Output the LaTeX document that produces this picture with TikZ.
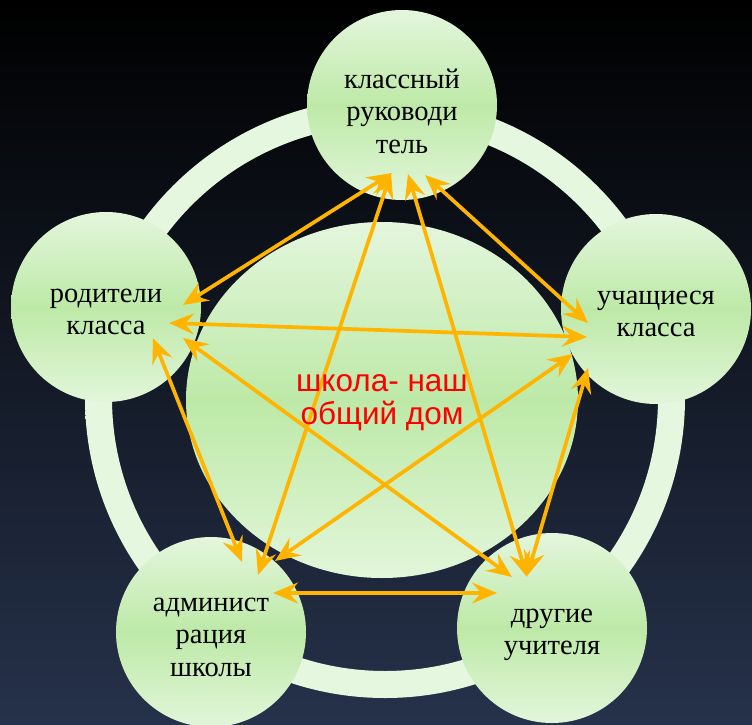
\documentclass[tikz,border=0pt]{standalone}
\usepackage{fontspec}
\setmainfont{Liberation Serif}
\newfontfamily\arialf{Liberation Sans}
\usetikzlibrary{shapes.geometric,arrows.meta}
\definecolor{bgbot}{HTML}{26324B}
\definecolor{gtop}{HTML}{E4F6DD}
\definecolor{gmid}{HTML}{BDE9A7}
\definecolor{gbot}{HTML}{E2F6DA}
\definecolor{ringA}{HTML}{E6F7DF}
\definecolor{ringB}{HTML}{D9F2CC}
\definecolor{arrc}{HTML}{FFB400}
\definecolor{txtred}{HTML}{FF0000}
\tikzset{
  bub/.style={circle, minimum size=190pt, inner sep=0pt,
    top color=gtop, bottom color=gbot, middle color=gmid},
  btxt/.style={align=center, inner sep=0pt, font=\fontsize{28.5}{32.5}\selectfont, text=black},
  hub/.style={ellipse, minimum width=392pt, minimum height=356pt, inner sep=0pt,
    top color=gtop, bottom color=gbot, middle color=gmid},
  htxt/.style={align=center, inner sep=0pt, font=\arialf\fontsize{31.5}{33}\selectfont, text=txtred},
  arr/.style={draw=arrc, line width=3.7pt,
    {Stealth[length=25pt,width=21pt,inset=9pt]}-{Stealth[length=25pt,width=21pt,inset=9pt]}}
}
\begin{document}
\begin{tikzpicture}[x=1pt,y=1pt]
\useasboundingbox (0,0) rectangle (752,-725);
% background
\shade[top color=black, middle color=black, bottom color=bgbot] (0,0) rectangle (752,-725);
% ring
\shade[even odd rule, top color=ringA, middle color=ringB, bottom color=ringA]
  (385,-398) circle (300) (385,-398) circle (273);
% central ellipse
\node[hub] (hub) at (382,-400) {};
% outer circles
\node[bub] (top) at (402,-105) {};
\node[bub] (lft) at (106,-307) {};
\node[bub] (rgt) at (656,-309) {};
\node[bub] (adm) at (211,-632) {};
\node[bub] (oth) at (552,-628) {};
% arrow end points
\coordinate (tTL) at (392,-173); \coordinate (lTL) at (183,-305);
\coordinate (tTA) at (391,-173); \coordinate (aTA) at (258,-575);
\coordinate (tTB) at (408,-174); \coordinate (bTB) at (527,-577);
\coordinate (tTR) at (425,-175); \coordinate (rTR) at (588,-323);
\coordinate (lLR) at (169,-323); \coordinate (rLR) at (587,-337);
\coordinate (lLA) at (153,-338); \coordinate (aLA) at (242,-562);
\coordinate (lLB) at (183,-338); \coordinate (bLB) at (512,-577);
\coordinate (rRA) at (573,-354); \coordinate (aRA) at (275,-561);
\coordinate (rRB) at (588,-368); \coordinate (bRB) at (527,-576);
\coordinate (aAB) at (273,-593); \coordinate (bAB) at (497,-593);
% arrows
\draw[arr] (tTL) -- (lTL);
\draw[arr] (tTA) -- (aTA);
\draw[arr] (tTB) -- (bTB);
\draw[arr] (tTR) -- (rTR);
\draw[arr] (lLR) -- (rLR);
\draw[arr] (lLA) -- (aLA);
\draw[arr] (lLB) -- (bLB);
\draw[arr] (rRA) -- (aRA);
\draw[arr] (rRB) -- (bRB);
\draw[arr] (aAB) -- (bAB);
% texts
\node[htxt] (hubt) at ([yshift=-3pt]hub.center) {школа- наш\\общий дом};
\node[btxt] (topt) at ([yshift=-6pt]top.center) {классный\\руководи\\тель};
\node[btxt] (lftt) at ([yshift=-5pt]lft.center) {родители\\класса};
\node[btxt] (rgtt) at ([yshift=-5pt]rgt.center) {учащиеся\\класса};
\node[btxt] (admt) at ([yshift=-5pt]adm.center) {админист\\рация\\школы};
\node[btxt] (otht) at ([yshift=-7pt]oth.center) {другие\\учителя};
\end{tikzpicture}
\end{document}
